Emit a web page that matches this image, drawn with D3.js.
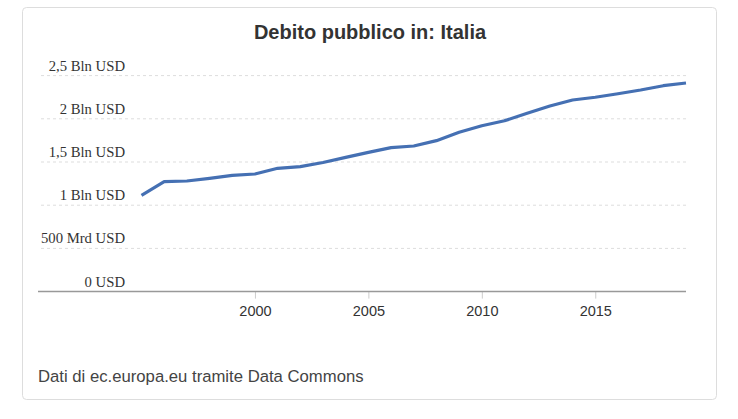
<!DOCTYPE html>
<html>
<head>
<meta charset="utf-8">
<script src="https://cdnjs.cloudflare.com/ajax/libs/d3/7.8.5/d3.min.js"></script>
<style>
  body { margin: 0; background: #fff; }
  .tick text { fill: #333; }
</style>
</head>
<body>
<div id="chart"></div>
<script>
// values in Bln USD (10^12)
const years = [1995, 1996, 1997, 1998, 1999, 2000, 2001, 2002, 2003, 2004, 2005, 2006,
               2007, 2008, 2009, 2010, 2011, 2012, 2013, 2014, 2015, 2016, 2017, 2018, 2019];
const debt = [1.115, 1.272, 1.28, 1.311, 1.346, 1.361, 1.427, 1.446, 1.494, 1.554, 1.612, 1.666,
              1.685, 1.747, 1.844, 1.92, 1.977, 2.064, 2.148, 2.218, 2.249, 2.29, 2.333, 2.383, 2.414];
const yTicks = [0, 0.5, 1, 1.5, 2, 2.5];
const yTickLabels = ["0 USD", "500 Mrd USD", "1 Bln USD", "1,5 Bln USD", "2 Bln USD", "2,5 Bln USD"];
const xTicks = [2000, 2005, 2010, 2015];

const W = 738, H = 419;
const plot = { left: 38, right: 686, top: 75.6, bottom: 291.6 };

const svg = d3.select("#chart").append("svg")
    .attr("width", W).attr("height", H);

// card
svg.append("rect")
    .attr("x", 22.5).attr("y", 7.5)
    .attr("width", 694).attr("height", 392)
    .attr("rx", 4)
    .attr("fill", "#fff")
    .attr("stroke", "#ddd");

svg.append("text")
    .attr("x", 370).attr("y", 39)
    .attr("text-anchor", "middle")
    .style("font-family", "'Liberation Sans', Arial, sans-serif")
    .style("font-size", "20px")
    .style("font-weight", "bold")
    .style("fill", "#333")
    .text("Debito pubblico in: Italia");

const x = d3.scaleLinear().domain([years[0], years[years.length - 1]]).range([141.5, plot.right]);
const y = d3.scaleLinear().domain([0, 2.5]).range([plot.bottom, plot.top]);

// gridlines + y labels
const yg = svg.append("g");
yTicks.forEach(function(t, i) {
    if (t > 0) {
        yg.append("line")
          .attr("x1", plot.left + 3).attr("x2", plot.right)
          .attr("y1", y(t)).attr("y2", y(t))
          .attr("stroke", "#ddd")
          .attr("stroke-dasharray", "3,3");
    }
    yg.append("text")
      .attr("x", 125).attr("y", y(t) - 5)
      .attr("text-anchor", "end")
      .style("font-family", "'Liberation Serif', 'Times New Roman', serif")
      .style("font-size", "14.7px")
      .style("fill", "#333")
      .text(yTickLabels[i]);
});

// x axis
const xAxis = svg.append("g")
    .attr("transform", "translate(0," + plot.bottom + ")")
    .call(d3.axisBottom(x).tickValues(xTicks).tickFormat(d3.format("d")).tickSize(7).tickPadding(7));
xAxis.select(".domain").remove();
xAxis.selectAll(".tick line").attr("stroke", "#ccc");
xAxis.selectAll(".tick text")
    .style("font-family", "'Liberation Sans', Arial, sans-serif")
    .style("font-size", "14.5px");
xAxis.append("line")
    .attr("x1", plot.left).attr("x2", plot.right)
    .attr("y1", 0).attr("y2", 0)
    .attr("stroke", "#999")
    .attr("stroke-width", 1.5);

const line = d3.line()
    .x((d, i) => x(years[i]))
    .y(d => y(d));

svg.append("path")
    .datum(debt)
    .attr("d", line)
    .attr("fill", "none")
    .attr("stroke", "#4570b3")
    .attr("stroke-width", 3.2)
    .attr("stroke-linejoin", "round");

svg.append("text")
    .attr("x", 38).attr("y", 382)
    .style("font-family", "'Liberation Sans', Arial, sans-serif")
    .style("font-size", "16.7px")
    .style("fill", "#444")
    .text("Dati di ec.europa.eu tramite Data Commons");
</script>
</body>
</html>
